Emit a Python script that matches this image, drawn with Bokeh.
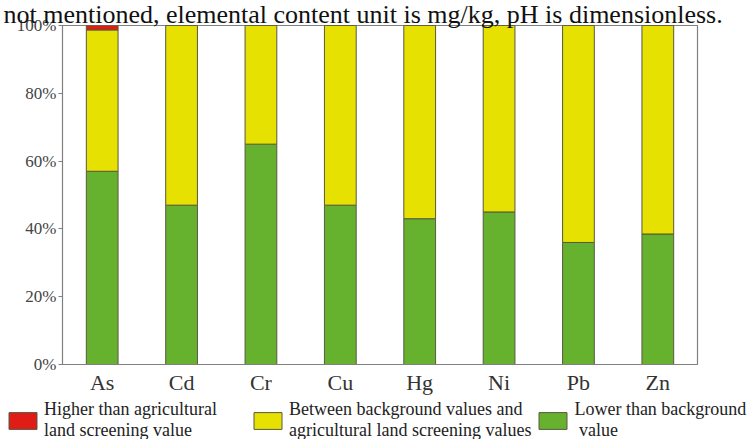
from bokeh.plotting import figure
from bokeh.layouts import column
from bokeh.models import FactorRange, Range1d, Legend, LegendItem, FixedTicker, CustomJSTickFormatter, ColumnDataSource
from bokeh.embed import file_html
from bokeh.resources import INLINE

elements = ["As", "Cd", "Cr", "Cu", "Hg", "Ni", "Pb", "Zn"]
lower_bg = [57.0, 47.0, 65.0, 47.0, 43.0, 45.0, 36.0, 38.5]
between = [41.7, 53.0, 35.0, 53.0, 57.0, 55.0, 64.0, 61.5]
higher = [1.3, 0.0, 0.0, 0.0, 0.0, 0.0, 0.0, 0.0]
series_names = [
    "Lower than background\n value",
    "Between background values and\nagricultural land screening values",
    "Higher than agricultural\nland screening value",
]
series_colors = ["#66b22e", "#e6e100", "#e01c17"]
y_ticks = [0, 20, 40, 60, 80, 100]
caption = "not mentioned, elemental content unit is mg/kg, pH is dimensionless."

FONT = "Liberation Serif"
EDGE = "#5a5840"

p = figure(
    x_range=FactorRange(*elements, range_padding=0),
    y_range=Range1d(0, 100),
    width=751, height=397,
    output_backend="svg", toolbar_location=None,
    min_border_left=62, min_border_right=54, min_border_top=0, min_border_bottom=0,
)
p.frame_align = False
p.outline_line_color = "#808080"
p.outline_line_width = 1.2
p.grid.visible = False

p.title.text = caption
p.title.text_font = FONT
p.title.text_font_size = "26px"
p.title.text_font_style = "normal"
p.title.text_color = "#111111"
p.title.align = "left"
p.title.offset = -59
p.title.standoff = -6

data = dict(x=elements, lower=lower_bg, between=between, higher=higher)
p.vbar_stack(
    ["lower", "between", "higher"], x="x", width=0.4, source=data,
    color=series_colors, line_color=EDGE, line_width=1,
)

# axes
p.yaxis.ticker = FixedTicker(ticks=y_ticks)
p.yaxis.formatter = CustomJSTickFormatter(code="return tick + '%';")
p.yaxis.major_label_text_font = FONT
p.yaxis.major_label_text_font_size = "17px"
p.yaxis.major_label_text_color = "#444444"
p.yaxis.major_tick_in = 0
p.yaxis.major_tick_out = 4
p.yaxis.minor_tick_line_color = None
p.yaxis.axis_line_color = "#808080"
p.yaxis.major_tick_line_color = "#808080"
p.yaxis.major_label_standoff = 2

p.xaxis.major_label_text_font = FONT
p.xaxis.major_label_text_font_size = "22px"
p.xaxis.major_label_text_color = "#333333"
p.xaxis.major_tick_line_color = None
p.xaxis.major_tick_in = 0
p.xaxis.major_tick_out = 0
p.xaxis.axis_line_color = "#808080"
p.xaxis.major_label_standoff = 5

# legend strip (separate figure spanning the page width)
lg = figure(
    width=751, height=42, x_range=Range1d(0, 1), y_range=Range1d(0, 1),
    output_backend="svg", toolbar_location=None,
    x_axis_location=None, y_axis_location=None,
    min_border_left=0, min_border_right=0, min_border_top=0, min_border_bottom=0,
)
lg.frame_align = False
lg.grid.visible = False
lg.outline_line_color = None
offscreen = ColumnDataSource(dict(x=[-10.0], top=[-10.0]))
swatches = [lg.vbar(x="x", top="top", width=0.1, source=offscreen,
                    fill_color=c, line_color=EDGE, line_width=1)
            for c in series_colors]
items = [
    LegendItem(label=series_names[2], renderers=[swatches[2]]),
    LegendItem(label=series_names[1], renderers=[swatches[1]]),
    LegendItem(label=series_names[0], renderers=[swatches[0]]),
]
legend = Legend(
    items=items, orientation="horizontal", location=(5, -2),
    glyph_width=35, glyph_height=21, label_standoff=4, spacing=4, label_width=202,
    padding=0, margin=0, border_line_color=None, background_fill_alpha=0,
    label_text_font=FONT, label_text_font_size="18px", label_text_color="#222222",
    label_text_line_height=0.9,
)
lg.add_layout(legend, "center")

layout = column(p, lg, spacing=0)
open("out.html", "w").write(file_html(layout, INLINE))
